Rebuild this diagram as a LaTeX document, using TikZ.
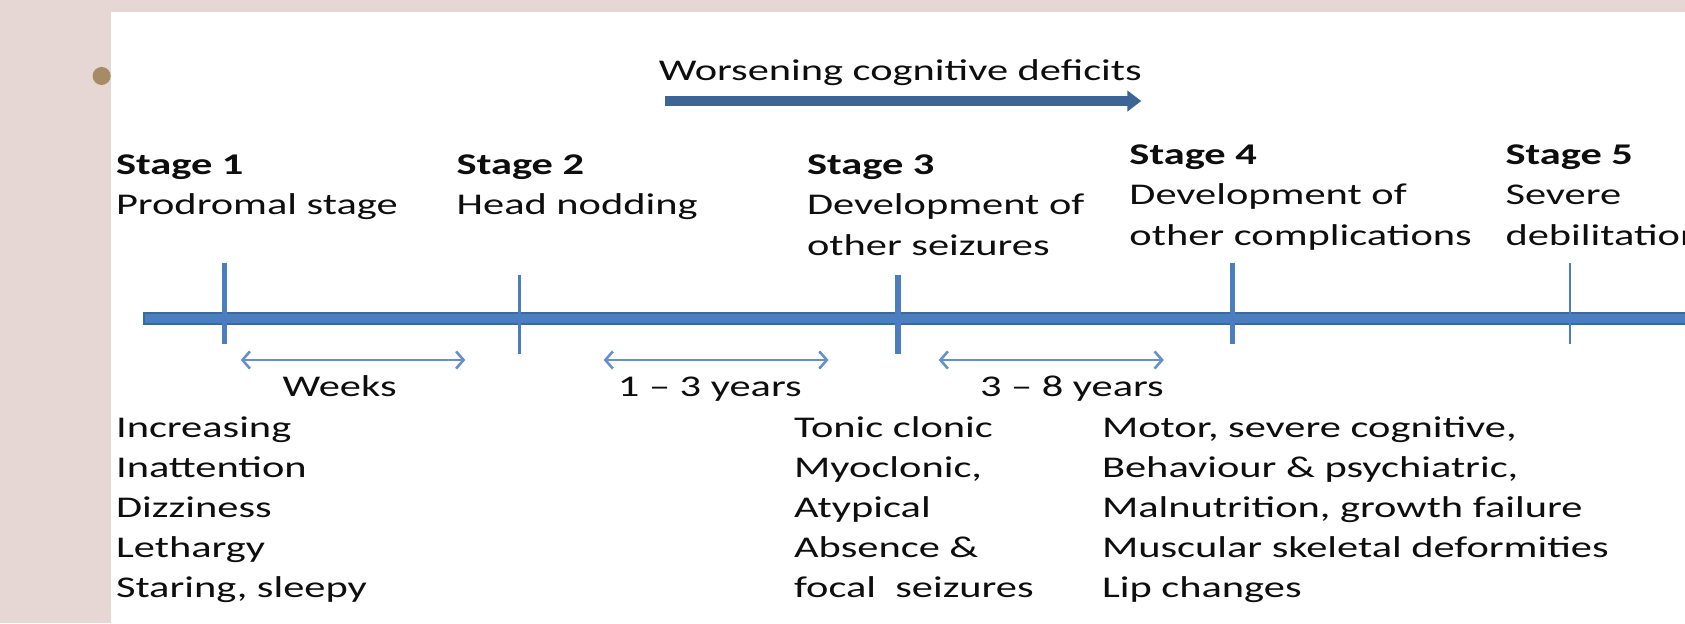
\documentclass[tikz,border=0pt]{standalone}
\usepackage{fontspec}
\setmainfont{Carlito}[FakeStretch=1.41]
\usetikzlibrary{arrows.meta}
\definecolor{pinkbg}{HTML}{E6D7D4}
\definecolor{bulletc}{HTML}{A68B67}
\definecolor{barblue}{HTML}{4A7EBF}
\definecolor{baredge}{HTML}{3D6898}
\definecolor{darkarrow}{HTML}{3C6595}
\definecolor{lightarrow}{HTML}{6790C8}
\definecolor{txt}{HTML}{0E0E0E}
\begin{document}
\begin{tikzpicture}[x=1pt,y=-1pt,
  lbl/.style={anchor=base west, inner sep=0pt, outer sep=0pt, text=txt, font=\fontsize{28}{37.5}\selectfont},
  hd/.style={lbl, font=\fontsize{28}{37.5}\selectfont\bfseries},
  tickthick/.style={draw=barblue, line width=5pt},
  tickthin/.style={draw=barblue, line width=2.5pt},
  spanarrow/.style={draw=lightarrow, line width=2.4pt, {Straight Barb[length=7pt,width=16pt]}-{Straight Barb[length=7pt,width=16pt]}},
]
\useasboundingbox (0,0) rectangle (1568,580);
\clip (0,0) rectangle (1568,580);
\fill[pinkbg] (0,0) rectangle (1568,580);
\fill[bulletc] (94.6,70.7) circle (8.4);
\fill[white] (103.3,10.9) rectangle (1568,580);

% worsening arrow
\node[lbl] (worse) at (613,75) {Worsening cognitive deficits};
\coordinate (wA) at (619,94);
\coordinate (wB) at (1062,94);
\draw[darkarrow, line width=8.5pt, -{Triangle[length=13pt,width=19pt]}] (wA) -- (wB);

% timeline bar
\coordinate (barL) at (133,296);
\coordinate (barR) at (1568,296);
\draw[baredge, line width=12pt] (barL) -- (barR);
\draw[barblue, line width=8.5pt] ([xshift=1.7pt]barL) -- (barR);

% ticks
\coordinate (t1a) at (209,245);   \coordinate (t1b) at (209,320);
\coordinate (t2a) at (483.5,256); \coordinate (t2b) at (483.5,329);
\coordinate (t3a) at (835.5,256); \coordinate (t3b) at (835.5,329);
\coordinate (t4a) at (1147,245);  \coordinate (t4b) at (1147,320);
\coordinate (t5a) at (1461,245);  \coordinate (t5b) at (1461,320);
\draw[tickthick] (t1a) -- (t1b);
\draw[tickthin]  (t2a) -- (t2b);
\draw[tickthick] (t3a) -- (t3b);
\draw[tickthick] (t4a) -- (t4b);
\draw[tickthin]  (t5a) -- (t5b);

% stage headings
\node[hd]  (h1) at (108,162.5) {Stage 1};
\node[lbl] (d1) at (108,200) {Prodromal stage};
\node[hd]  (h2) at (425,162.5) {Stage 2};
\node[lbl] (d2) at (425,200) {Head nodding};
\node[hd]  (h3) at (751,162.5) {Stage 3};
\node[lbl] (d3a) at (751,200) {Development of};
\node[lbl] (d3b) at (751,237.5) {other seizures};
\node[hd]  (h4) at (1051,153) {Stage 4};
\node[lbl] (d4a) at (1051,190.5) {Development of};
\node[lbl] (d4b) at (1051,228) {other complications};
\node[hd]  (h5) at (1401,153) {Stage 5};
\node[lbl] (d5a) at (1401,190.5) {Severe};
\node[lbl] (d5b) at (1401,228) {debilitation};

% duration arrows
\coordinate (s1a) at (224,335);   \coordinate (s1b) at (433,335);
\coordinate (s2a) at (561.7,335); \coordinate (s2b) at (771,335);
\coordinate (s3a) at (873.5,335); \coordinate (s3b) at (1083,335);
\draw[spanarrow] (s1a) -- (s1b);
\draw[spanarrow] (s2a) -- (s2b);
\draw[spanarrow] (s3a) -- (s3b);
\node[lbl] (weeks) at (263,369) {Weeks};
\node[lbl] (y13) at (575,369) {1 – 3 years};
\node[lbl] (y38) at (912,369) {3 – 8 years};

% symptom lists
\foreach \t [count=\i] in {Increasing, Inattention, Dizziness, Lethargy, {Staring, sleepy}}
  \node[lbl] (la\i) at (108,{370.3+37.2*\i}) {\t};
\foreach \t [count=\i] in {Tonic clonic, {Myoclonic,}, Atypical, {Absence \&}, {focal\ \ seizures}}
  \node[lbl] (lb\i) at (739,{370.3+37.2*\i}) {\t};
\foreach \t [count=\i] in {{Motor, severe cognitive,}, {Behaviour \& psychiatric,}, {Malnutrition, growth failure}, Muscular skeletal deformities, Lip changes}
  \node[lbl] (lc\i) at (1025.5,{370.3+37.2*\i}) {\t};
\end{tikzpicture}
\end{document}
